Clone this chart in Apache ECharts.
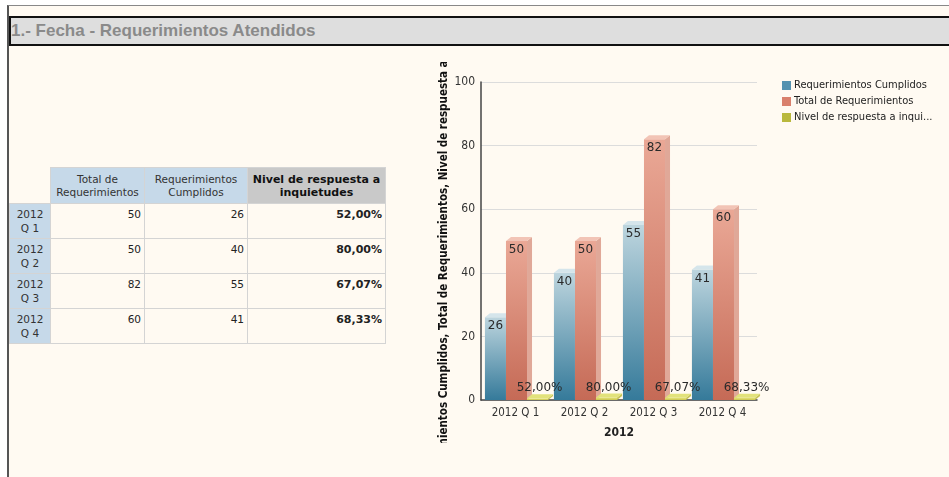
<!DOCTYPE html>
<html>
<head>
<meta charset="utf-8">
<script src="https://cdn.jsdelivr.net/npm/echarts@6/dist/echarts.min.js"></script>
<style>
    html, body {
        margin: 0;
        padding: 0;
        width: 949px;
        height: 477px;
        overflow: hidden;
        background: #fff;
    }
    #page {
        position: absolute;
        left: 7px;
        top: 5px;
        width: 950px;
        height: 472px;
        background: #fffaf2;
        border-top: 1px solid #888;
        border-left: 2px solid #555;
    }
    .title {
        position: absolute;
        left: 0px;
        top: 10px;
        width: 960px;
        height: 26px;
        background: #dedede;
        border: 2px solid #111;
        font-family: "Liberation Sans", Arial, sans-serif;
        font-weight: bold;
        font-size: 17px;
        line-height: 26px;
        color: #8a8a8a;
        padding-left: 0px;
    }
    #tabla {
        position: absolute;
        left: 9px;
        top: 167px;
        border-collapse: collapse;
        font-family: "DejaVu Sans", Verdana, sans-serif;
        font-size: 10.5px;
        color: #222;
    }
    #tabla td, #tabla th {
        border: 1px solid #d4d4d4;
        padding: 0 3px;
        vertical-align: top;
        box-sizing: border-box;
    }
    #tabla th {
        font-weight: normal;
        background: #c6d9e9;
        color: #333;
        text-align: center;
        vertical-align: middle;
        height: 36px;
        line-height: 13px;
    }
    #tabla th.corner {
        background: #fffaf2;
        border: none;
    }
    #tabla th.nivel {
        background: #c9c9c9;
        font-weight: bold;
        font-size: 11px;
        color: #111;
    }
    #tabla td {
        height: 35px;
        text-align: right;
        padding-top: 4px;
        background: #fffaf2;
    }
    #tabla td.rowh {
        background: #c6d9e9;
        text-align: center;
        padding-top: 3px;
        line-height: 14px;
        color: #333;
    }
    #tabla td.pct {
        font-weight: bold;
        font-size: 11px;
    }
    #chart {
        position: absolute;
        left: 432px;
        top: 62px;
        width: 517px;
        height: 381px;
    }
</style>
</head>
<body>
<div id="page">
    <div class="title">1.- Fecha - Requerimientos Atendidos</div>
</div>
<table id="tabla"></table>
<div id="chart"></div>

<script>
    // datos
    var categories = ['2012 Q 1', '2012 Q 2', '2012 Q 3', '2012 Q 4']
    var totalRequerimientos = [50, 50, 82, 60]
    var reqCumplidos = [26, 40, 55, 41]
    var nivelRespuesta = [52.00, 80.00, 67.07, 68.33]   // en %
    var yTicks = [0, 20, 40, 60, 80, 100]

    var seriesNames = ['Requerimientos Cumplidos', 'Total de Requerimientos', 'Nivel de respuesta a inquietudes']

    var fuente = '"DejaVu Sans Condensed", "DejaVu Sans", Verdana, sans-serif'

    function pct(v) {
        return v.toFixed(2).replace('.', ',') + '%'
    }

    // tabla
    var html = '<tr><th class="corner" style="width:41px"></th>' +
        '<th style="width:94px">Total de<br>Requerimientos</th>' +
        '<th style="width:103px">Requerimientos<br>Cumplidos</th>' +
        '<th class="nivel" style="width:138px">Nivel de respuesta a<br>inquietudes</th></tr>'
    categories.forEach(function (c, i) {
        html += '<tr><td class="rowh">' + c.replace(' ', '<br>') + '</td>' +
            '<td>' + totalRequerimientos[i] + '</td>' +
            '<td>' + reqCumplidos[i] + '</td>' +
            '<td class="pct">' + pct(nivelRespuesta[i]) + '</td></tr>'
    })
    document.getElementById('tabla').innerHTML = html

    // colores de cada serie: frente (arriba, abajo), cara superior, lateral
    var palette = [
        { top: '#bdd5de', bottom: '#357a9a', cap: '#d5e5eb', side: '#9dbac6', legend: '#5592b0' },
        { top: '#eaa896', bottom: '#c56a56', cap: '#f2c4b6', side: '#e0a898', legend: '#d9806d' },
        { top: '#e6e47a', bottom: '#c9c54c', cap: '#e2e27a', side: '#c8c455', legend: '#b9b83d' }
    ]
    var depthX = 5, depthY = 4

    function bar3D(idx, labels) {
        return function (params, api) {
            var cat = api.value(0)
            var val = api.value(1)
            var base = api.coord([cat, 0])
            var top = api.coord([cat, val])
            var band = api.size([1, 0])[0]
            var w = band * 0.305
            var x0 = base[0] - 1.5 * w + idx * w + 1
            var x1 = x0 + w
            var y0 = top[1], y1 = base[1]
            var c = palette[idx]
            var children = [
                {
                    type: 'polygon',
                    shape: { points: [[x1, y0], [x1 + depthX, y0 - depthY], [x1 + depthX, y1 - depthY], [x1, y1]] },
                    style: { fill: c.side }
                },
                {
                    type: 'rect',
                    shape: { x: x0, y: y0, width: w, height: Math.max(y1 - y0, 0.5) },
                    style: {
                        fill: new echarts.graphic.LinearGradient(0, 0, 0, 1, [
                            { offset: 0, color: c.top },
                            { offset: 1, color: c.bottom }
                        ])
                    }
                },
                {
                    type: 'polygon',
                    shape: { points: [[x0, y0], [x0 + depthX, y0 - depthY], [x1 + depthX, y0 - depthY], [x1, y0]] },
                    style: { fill: c.cap }
                }
            ]
            var txt = labels[params.dataIndex]
            if (idx < 2) {
                children.push({
                    type: 'text',
                    style: {
                        x: (x0 + x1) / 2, y: y0 + 3, text: txt,
                        align: 'center', verticalAlign: 'top',
                        font: '12px "DejaVu Sans", Verdana, sans-serif', fill: '#2a2a2a'
                    }
                })
            } else {
                children.push({
                    type: 'text',
                    style: {
                        x: (x0 + x1) / 2 + 2, y: y0 - 4, text: txt,
                        align: 'center', verticalAlign: 'bottom',
                        font: '12px "DejaVu Sans", Verdana, sans-serif', fill: '#2a2a2a'
                    }
                })
            }
            return { type: 'group', children: children }
        }
    }

    var seriesData = [reqCumplidos, totalRequerimientos, nivelRespuesta.map(function (v) { return v / 100 })]
    var seriesLabels = [
        reqCumplidos.map(String),
        totalRequerimientos.map(String),
        nivelRespuesta.map(pct)
    ]

    var chart = echarts.init(document.getElementById('chart'))
    chart.setOption({
        animation: false,
        textStyle: { fontFamily: fuente },
        legend: {
            orient: 'vertical',
            left: 345,
            top: 13,
            itemWidth: 9,
            itemHeight: 9,
            itemGap: 5,
            icon: 'rect',
            data: seriesNames,
            textStyle: {
                fontFamily: fuente,
                fontSize: 11,
                color: '#222',
                width: 144,
                overflow: 'truncate',
                padding: [0, 0, 0, -2]
            }
        },
        grid: {
            left: 49,
            right: 192,
            top: 20,
            bottom: 43,
            outerBoundsMode: 'none'
        },
        xAxis: {
            type: 'category',
            data: categories,
            name: '2012',
            nameLocation: 'middle',
            nameGap: 27,
            nameTextStyle: { fontWeight: 'bold', fontSize: 12, color: '#222' },
            axisLine: { lineStyle: { color: '#444', width: 1.5 } },
            axisTick: { show: false },
            axisLabel: { fontSize: 11.5, color: '#333', margin: 7 }
        },
        yAxis: {
            type: 'value',
            min: yTicks[0],
            max: yTicks[yTicks.length - 1],
            interval: yTicks[1] - yTicks[0],
            name: seriesNames.join(', '),
            nameLocation: 'middle',
            nameGap: 31,
            nameMoveOverlap: false,
            nameTextStyle: { fontWeight: 'bold', fontSize: 11.5, color: '#111' },
            axisLine: { show: true, lineStyle: { color: '#444', width: 1.5 } },
            axisTick: { show: false },
            axisLabel: { fontSize: 12, color: '#333', margin: 6 },
            splitLine: { lineStyle: { color: '#dcdcdc' } }
        },
        series: seriesNames.map(function (name, i) {
            return {
                name: name,
                type: 'custom',
                itemStyle: { color: palette[i].legend },
                renderItem: bar3D(i, seriesLabels[i]),
                encode: { x: 0, y: 1 },
                data: seriesData[i].map(function (v, j) { return [j, v] })
            }
        })
    })
</script>
</body>
</html>
